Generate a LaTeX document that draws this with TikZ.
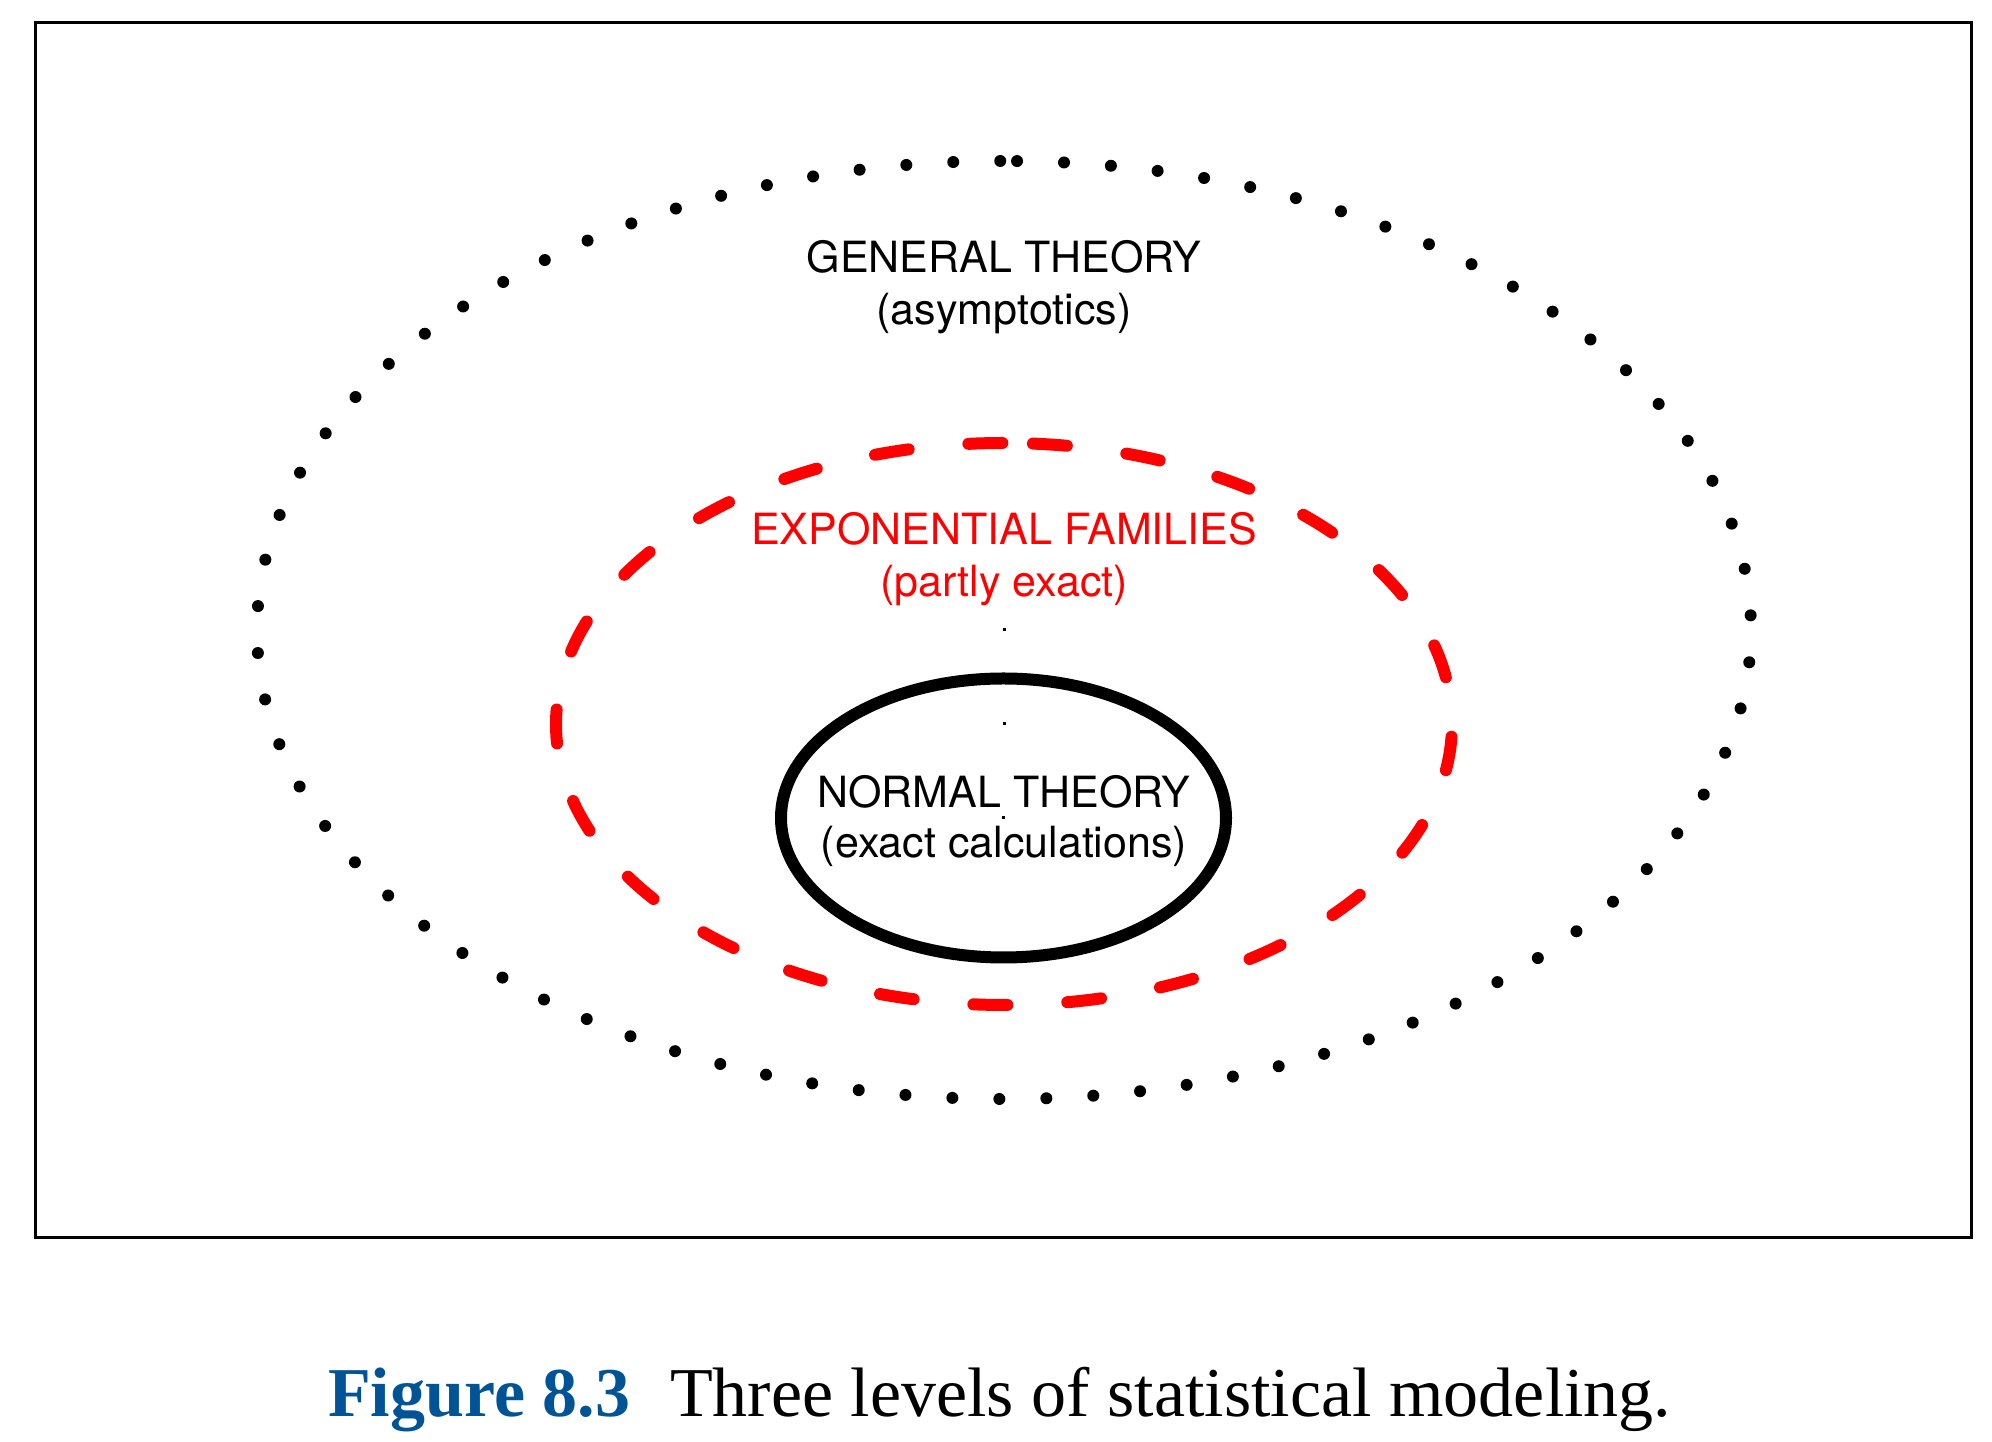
\documentclass[tikz,border=0pt]{standalone}
\usepackage{fontspec}
\newfontfamily\helv{TeX Gyre Heros}
\newfontfamily\timesf{Liberation Serif}
\definecolor{capblue}{RGB}{0,84,150}
\begin{document}
\begin{tikzpicture}[x=1pt,y=1pt,
  label/.style={font=\helv\fontsize{43}{52}\selectfont, anchor=base, inner sep=0pt},
  frame/.style={draw=black, line width=3pt},
  dotring/.style={draw=black, line width=12pt, line cap=round, dash pattern=on 0pt off 47pt},
  dashring/.style={draw=red, line width=12pt, line cap=round, dash pattern=on 34pt off 60pt},
  solidring/.style={draw=black, line width=12pt},
  centermark/.style={fill=black, minimum size=3pt, inner sep=0pt, shape=rectangle}]
\useasboundingbox (0,0) rectangle (1992,1442);
\fill[white] (0,0) rectangle (1992,1442);
\draw[frame] (35.5,1419.5) rectangle (1971.7,204.3);

\coordinate (outerc) at (1004,812);
\coordinate (midc) at (1004,718);
\coordinate (innerc) at (1003.5,624);

\draw[dotring] ([shift={(89:747 and 469)}]outerc) arc[start angle=89, end angle=-271, x radius=747, y radius=469];
\draw[dashring] ([shift={(86.3:448 and 281)}]midc) arc[start angle=86.3, end angle=-273.7, x radius=448, y radius=281];
\draw[solidring] (innerc) ellipse[x radius=222.5, y radius=139.5];

\node[centermark] (m1) at (outerc) {};
\node[centermark] (m2) at (midc) {};
\node[centermark] (m3) at (innerc) {};

\node[label] (gen1) at (1004,1169) {GENERAL THEORY};
\node[label] (gen2) at (1004,1117) {(asymptotics)};
\node[label, text=red] (exp1) at (1004,897) {EXPONENTIAL FAMILIES};
\node[label, text=red] (exp2) at (1004,845) {(partly exact)};
\node[label] (nor1) at (1004,634) {NORMAL THEORY};
\node[label] (nor2) at (1004,584) {(exact calculations)};

\node[anchor=base west, inner sep=0pt, font=\timesf\fontsize{70}{80}\selectfont] (cap) at (328,25)
  {\textcolor{capblue}{\bfseries Figure 8.3}\hspace{40pt}Three levels of statistical modeling.};
\end{tikzpicture}
\end{document}
